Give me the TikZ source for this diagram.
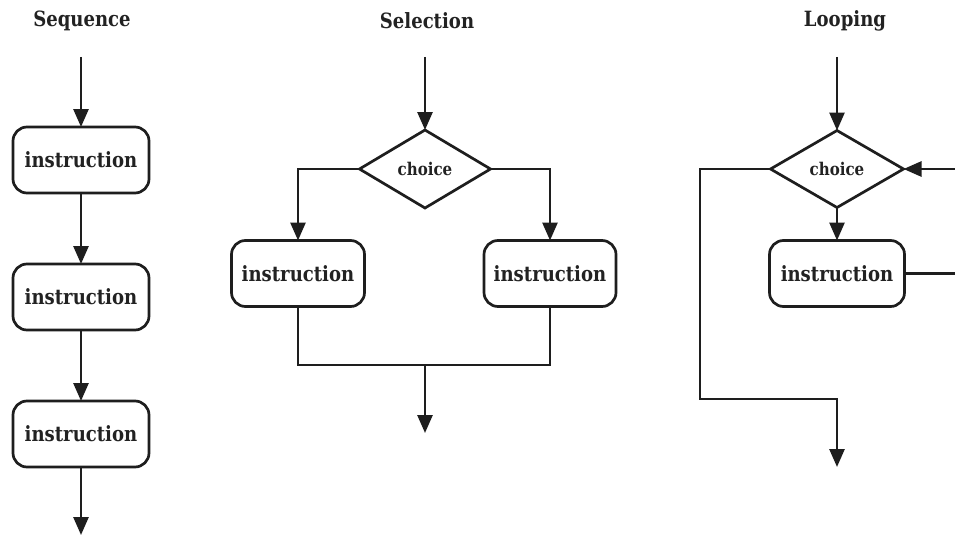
\documentclass[tikz,border=0pt]{standalone}
\usepackage{fontspec}
\setmainfont[FakeStretch=0.86]{DejaVu Serif}
\usetikzlibrary{shapes.geometric,arrows.meta}
\definecolor{ink}{HTML}{1E1E1E}
\definecolor{txt}{HTML}{222222}
\tikzset{
  flow/.style={draw=ink, line width=2.7pt, line join=miter},
  arr/.style={flow, -{Triangle[width=15pt,length=18pt]}},
  instr/.style={draw=ink, line width=2.7pt, rounded corners=14pt, fill=white,
    minimum height=66pt, inner sep=0pt, outer sep=0pt, text=txt,
    font=\fontsize{21}{23}\selectfont\bfseries},
  choicebox/.style={draw=ink, line width=2.7pt, diamond, aspect=1.7, fill=white,
    minimum width=131pt, minimum height=78pt, inner sep=0pt, outer sep=0pt,
    text=txt, font=\fontsize{17.5}{19}\selectfont\bfseries},
  heading/.style={text=txt, font=\fontsize{21}{23}\selectfont\bfseries},
}
\begin{document}
\begin{tikzpicture}[x=1pt, y=-1pt]
\useasboundingbox (0,0) rectangle (955,535);
\fill[white] (0,0) rectangle (955,535);

% ---- Sequence ----
\node[heading] (tseq) at (82,21) {Sequence};
\coordinate (seqIn) at (81,57);
\node[instr, minimum width=136pt] (s1) at (81,160) {instruction};
\node[instr, minimum width=136pt] (s2) at (81,297) {instruction};
\node[instr, minimum width=136pt] (s3) at (81,434) {instruction};
\coordinate (seqOut) at (81,535);
\draw[arr] (seqIn) -- (s1.north);
\draw[arr] (s1.south) -- (s2.north);
\draw[arr] (s2.south) -- (s3.north);
\draw[arr] (s3.south) -- (seqOut);

% ---- Selection ----
\node[heading] (tsel) at (427,21) {Selection};
\coordinate (selIn) at (425,57);
\node[choicebox] (dsel) at (425,169) {choice};
\node[instr, minimum width=133pt] (bl) at (298,273.5) {instruction};
\node[instr, minimum width=132pt] (br) at (550,273.5) {instruction};
\coordinate (join) at (425,365);
\coordinate (selOut) at (425,433);
\draw[arr] (selIn) -- (dsel.north);
\draw[arr] (dsel.west) -| (bl.north);
\draw[arr] (dsel.east) -| (br.north);
\draw[flow] (bl.south) |- (join) -| (br.south);
\draw[arr] (join) -- (selOut);

% ---- Looping ----
\node[heading] (tloop) at (845,21) {Looping};
\coordinate (loopIn) at (837,57);
\node[choicebox, minimum width=133pt, minimum height=77pt] (dloop) at (837,169) {choice};
\node[instr, minimum width=135pt] (bloop) at (837,273.5) {instruction};
\coordinate (back) at (955,273.5);
\coordinate (backIn) at (955,169);
\coordinate (corner) at (700,399);
\coordinate (loopOut) at (837,467);
\draw[arr] (loopIn) -- (dloop.north);
\draw[arr] (dloop.south) -- (bloop.north);
\draw[flow] (bloop.east) -- (back);
\draw[arr] (backIn) -- (dloop.east);
\draw[arr] (dloop.west) -| (corner) -| (loopOut);
\end{tikzpicture}
\end{document}
